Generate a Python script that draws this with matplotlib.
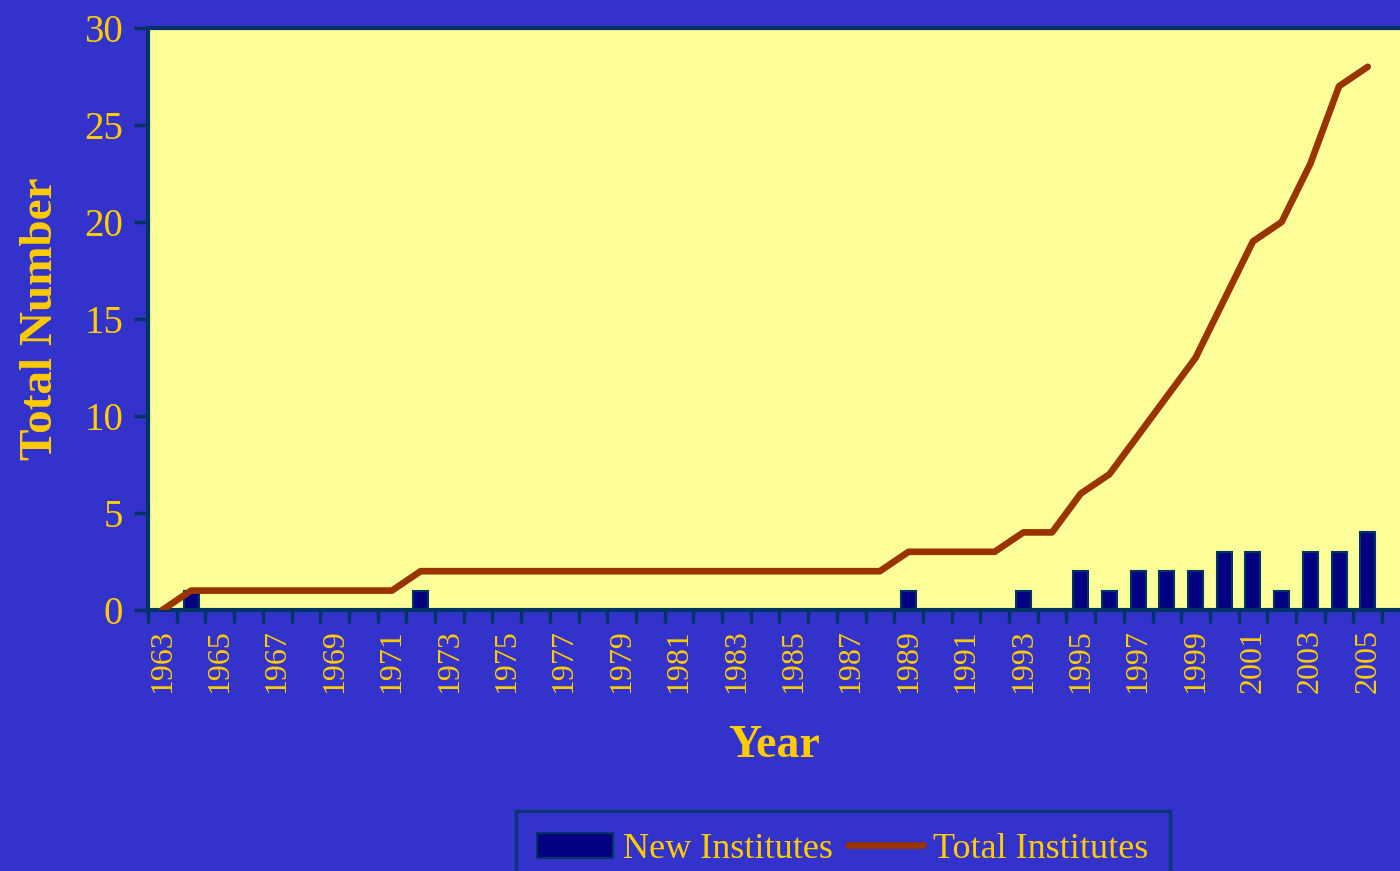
import matplotlib
matplotlib.use("Agg")
import matplotlib.pyplot as plt
import numpy as np

# data
years = list(range(1963, 2006))
new_institutes = [0, 1, 0, 0, 0, 0, 0, 0, 0, 1,   # 1963-1972
                  0, 0, 0, 0, 0, 0, 0, 0, 0, 0,   # 1973-1982
                  0, 0, 0, 0, 0, 0, 1, 0, 0, 0,   # 1983-1992
                  1, 0, 2, 1, 2, 2, 2, 3, 3, 1,   # 1993-2002
                  3, 3, 4]                        # 2003-2005
total_institutes = [0, 1, 1, 1, 1, 1, 1, 1, 1, 2,
                    2, 2, 2, 2, 2, 2, 2, 2, 2, 2,
                    2, 2, 2, 2, 2, 2, 3, 3, 3, 3,
                    4, 4, 6, 7, 9, 11, 13, 16, 19, 20,
                    23, 27, 28]

BG = "#3333CC"
PLOT_BG = "#FFFF99"
TXT = "#FFCC00"
AXC = "#003366"

plt.rcParams["font.family"] = ["Liberation Serif", "DejaVu Serif"]

fig = plt.figure(figsize=(14, 8.71), dpi=100, facecolor=BG)
ax = fig.add_axes([148 / 1400, 1 - 610 / 871, 1252 / 1400, 582 / 871])
ax.set_facecolor(PLOT_BG)

x = np.arange(len(years))
bars = ax.bar(x, new_institutes, width=0.52, color="#000080", edgecolor=AXC,
              linewidth=1.5, label="New Institutes", zorder=2)
line, = ax.plot(x, total_institutes, color="#993300", linewidth=4.8,
                solid_capstyle="round", label="Total Institutes", zorder=3)

# plot area runs a little past the last year, as in the original
ax.set_xlim(-0.5, -0.5 + 1252 / 28.7)
ax.set_ylim(0, 30)
ax.set_yticks(range(0, 31, 5))
ax.set_xticks(x[::2])
ax.set_xticklabels([str(y) for y in years[::2]], rotation=90,
                   fontsize=23, color=TXT)
ax.set_xticks(np.arange(-0.5, len(years), 1.0), minor=True)
ax.tick_params(axis="x", which="major", length=0, pad=14)
ax.tick_params(axis="x", which="minor", length=9, width=2.5, color=AXC,
               direction="out")
ax.tick_params(axis="y", length=10, width=2.5, color=AXC, labelsize=28,
               labelcolor=TXT, pad=8)

for side in ["left", "bottom", "top"]:
    ax.spines[side].set_color(AXC)
    ax.spines[side].set_linewidth(3)
ax.spines["right"].set_visible(False)

ax.set_ylabel("Total Number", fontsize=34, fontweight="bold", color=TXT,
              labelpad=16)
ax.set_xlabel("Year", fontsize=33, fontweight="bold", color=TXT, labelpad=23)

leg = ax.legend([bars, line], ["New Institutes", "Total Institutes"],
                loc="upper center", bbox_to_anchor=(843 / 1400, 1 - 811 / 871),
                bbox_transform=fig.transFigure, ncol=2, frameon=True,
                fontsize=26, facecolor=BG, edgecolor=AXC, fancybox=False,
                handlelength=2.1, columnspacing=0.4, handletextpad=0.28,
                borderpad=0.6, borderaxespad=0)
leg.get_frame().set_linewidth(2.5)
for t in leg.get_texts():
    t.set_color(TXT)

fig.savefig("out.png", dpi=100, facecolor=BG)
